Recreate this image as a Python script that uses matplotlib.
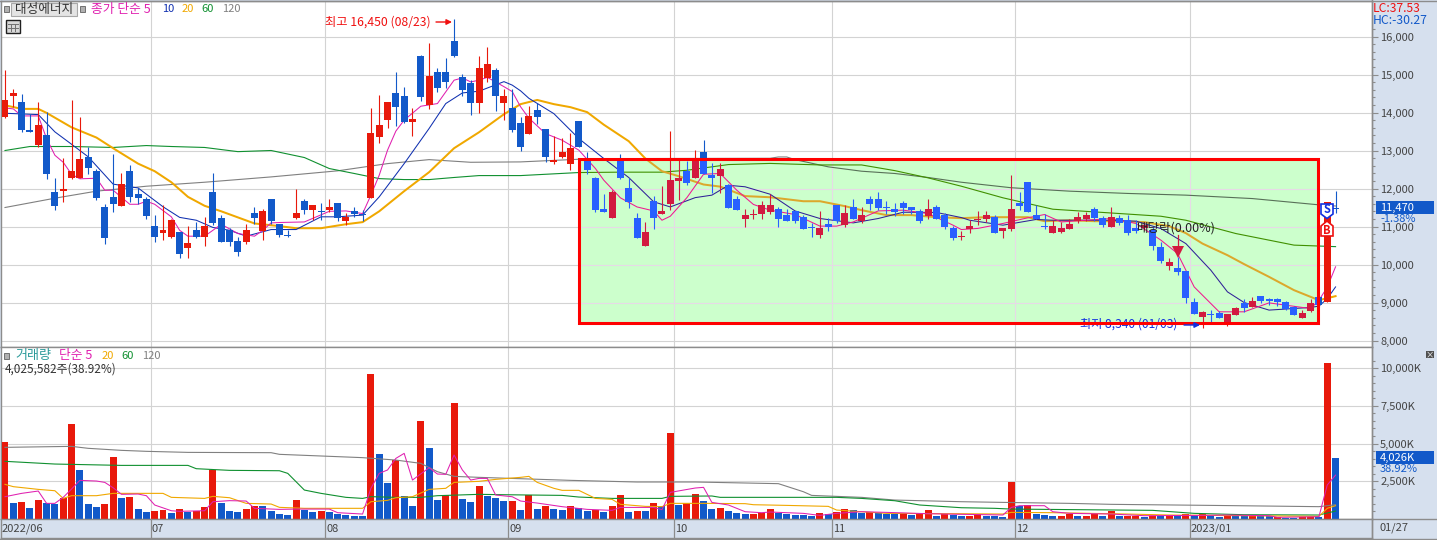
import matplotlib
matplotlib.use("Agg")
import matplotlib.pyplot as plt
from matplotlib.patches import Rectangle, Polygon
from matplotlib.ticker import FixedLocator, FuncFormatter, NullFormatter

plt.rcParams['font.family'] = ['Noto Sans CJK KR', 'DejaVu Sans']

# ---------------- data ----------------
candle_colors = list("RRBBRBBRRRBBBBRBBBBR"
                     "RBRBRBBBBRBRBBBRBRBR"
                     "BRBBRRRBBRBRBBBBBRRB"
                     "RBBRBBRRRBBBBRBBBRBR"
                     "RRBRBBRBBRRRRBBBBBRB"
                     "BRBRBBBBBBBRBBBRRRRB"
                     "RRBBBBRRRRRBBRBBBRBB"
                     "RBBBRBBRRBRBBBBBRRBRB")
body_top = [14325,14500,14270,13550,13665,13400,11900,12000,12455,12770,12825,12455,11510,11770,12115,12455,11850,11720,11010,10900,
 11165,10850,10560,10900,11010,11900,11220,10900,10615,10900,11350,11400,11720,11060,10770,11350,11665,11560,11380,11510,
 11615,11245,11400,11300,13455,13665,14270,14510,14430,13825,15480,14955,15060,15060,15875,14930,14770,15171,15276,15119,
 14435,14113,13718,13902,14060,13560,12760,12955,13060,13770,12800,12270,11455,11900,12770,12010,11220,10850,11665,11400,
 12220,12270,12455,12770,12955,12350,12510,12085,11720,11300,11325,11560,11560,11455,11300,11400,11245,10960,10955,11060,
 11560,11350,11510,11300,11720,11720,11505,11455,11615,11510,11400,11455,11510,11300,10955,10740,11008,11190,11300,11245,
 10955,11455,11615,12165,11300,11010,11008,10955,11060,11245,11300,11455,11220,11245,11220,11165,10955,11050,10900,10455,
 10060,9903,9825,9010,8745,8690,8720,8693,8850,8982,9035,9167,9088,9088,9010,8877,8720,8982,9140,11655,11480]
body_bottom = [13886,14440,13545,13490,13140,12385,11545,11940,12270,12270,12535,11745,10690,11585,11545,11770,11745,11270,10720,10830,
 10720,10270,10430,10720,10720,11090,10590,10590,10325,10590,11220,10875,11140,10770,10760,11220,11430,11430,11370,11430,
 11220,11140,11325,11290,11754,13350,13800,14140,13745,13745,14400,14195,14640,14800,15480,14590,14245,14259,14908,14435,
 14250,13534,13087,13430,13876,12824,12690,12825,12640,13085,12480,11430,11375,11220,12270,11640,10690,10480,11220,11325,
 11590,12190,12140,12270,12375,12270,12325,11480,11430,11190,11315,11325,11375,11190,11140,11140,10930,10950,10770,10980,
 11140,11035,11190,11140,11590,11480,11495,11375,11480,11430,11140,11270,11190,10980,10690,10730,10930,11180,11190,10825,
 10875,10930,11535,11375,11190,11000,10825,10850,10930,11140,11190,11220,11035,10980,11085,10825,10875,10950,10495,10085,
 9955,9798,9115,8693,8615,8680,8590,8405,8665,8850,8877,9035,9035,9010,8825,8665,8590,8770,8930,9010,11470]
high = [15114,14610,14500,13970,14270,14015,12270,12815,14325,13875,13095,12525,11600,12900,12400,12615,12010,11780,11300,11560,
 11210,10850,11010,11115,11245,12400,11300,10955,10720,11060,11510,11455,11720,11060,10900,12000,11720,11560,11615,11720,
 11615,11350,11510,11430,14120,14455,14270,15060,14665,14115,15510,15825,15165,15430,16450,15010,14850,15487,15724,15171,
 14619,14619,13876,14165,14245,13560,13375,13325,13455,13770,12955,12300,11850,11955,12900,12270,11350,11115,11800,12060,
 13510,12745,12720,13010,13270,12665,12665,12115,11800,11455,11455,11665,11850,11510,11455,11400,11300,11085,11400,11220,
 11560,11560,11720,11510,11800,11900,11665,11615,11665,11510,11455,11720,11560,11350,11010,10880,11166,11400,11400,11300,
 10955,12350,11900,12165,11560,11325,11166,11115,11190,11375,11375,11510,11270,11510,11300,11300,11165,11115,10980,10590,
 10165,10193,9825,9115,8770,8800,8770,8693,8877,9088,9140,9167,9115,9115,9035,8905,8800,9088,9140,11655,11932]
low = [13860,14150,13490,13490,13095,12255,11430,11650,12245,12270,12385,11690,10545,11375,11545,11640,11585,11190,10590,10640,
 10690,10175,10175,10690,10480,11035,10590,10480,10220,10535,11060,10640,11060,10720,10720,11190,11325,11165,11165,11375,
 11140,11035,11245,11140,11754,13190,13590,13640,13720,13375,14300,14085,14535,14640,15455,14430,13930,13987,14803,14040,
 13797,13480,12980,13430,13690,12690,12640,12800,12480,13085,12375,11375,11375,11220,12245,11480,10690,10480,10930,11325,
 11430,11690,12085,12270,12375,11875,11875,11480,11430,10980,11190,11190,11325,10980,11140,11085,10930,10720,10690,10875,
 11085,10980,11190,11085,11430,11430,11325,11270,11325,11325,11085,11190,11190,10930,10640,10650,10825,11035,11115,10825,
 10690,10875,11430,11375,11190,10930,10825,10825,10930,11085,11140,11140,10980,10980,11035,10770,10825,10900,10375,10035,
 9850,9719,8982,8693,8340,8480,8590,8377,8665,8745,8877,8982,8930,8905,8800,8665,8590,8745,8877,9010,11355]

volume_colors = ["R","B","R","B","R","B","B","R","R","B","B","B","R","R","B","R","B","B","R","R",
 "B","R","B","R","R","R","B","B","B","R","R","B","B","B","B","R","B","B","R","B",
 "B","B","B","B","R","B","B","R","B","B","R","B","B","R","R","B","B","R","B","B",
 "B","R","B","R","B","R","B","B","R","B","B","R","B","R","R","B","R","B","R","B",
 "R","B","R","R","B","B","R","B","B","B","R","R","R","B","B","B","B","B","R","B",
 "R","R","B","B","R","B","B","B","R","B","R","R","B","R","B","B","R","R","B","B",
 "B","R","B","R","B","B","B","R","R","B","R","R","B","R","B","R","R","B","R","B",
 "R","B","R","B","R","B","B","R","B","B","R","B","B","R","B","B","R","R","B","R","B"]
volume = [5100,1040,1110,710,1240,1040,975,1375,6295,3235,975,775,975,4100,1375,1440,645,445,510,575,
 375,645,445,510,775,3235,1040,510,445,645,840,840,510,310,245,1240,575,445,510,445,
 310,245,175,175,9620,4300,2370,3900,1505,840,6495,4700,1240,1575,7695,1310,1110,2170,1505,1375,
 1175,1175,575,1575,645,840,645,575,840,710,510,575,445,840,1575,445,510,510,1040,840,
 5700,910,1040,1640,1175,645,710,510,375,310,310,375,645,375,310,245,245,175,375,310,
 445,645,575,375,445,375,310,310,375,245,310,575,175,310,245,175,175,310,175,175,
 110,2440,840,910,310,245,175,175,310,175,175,310,175,510,175,175,175,110,175,175,
 175,175,310,175,310,175,110,175,175,175,175,175,175,110,65,65,110,110,130,10355,4026]

ma5_x = [0,1,2,4,5,6,7,8,9,11,12,13,15,16,17,18,20,21,22,24,25,26,28,30,31,32,33,36,39,41,43,44,45,46,47,48,50,52,54,55,56,57,58,60,61,62,63,65,67,69,71,72,74,76,78,79,80,82,84,86,88,90,92,95,98,100,102,105,108,111,114,115,117,120,123,125,127,130,133,136,139,141,143,146,149,152,155,157,158,159,160]
ma5_y = [14120,14095,13910,13910,13315,12875,12690,12375,12255,12270,11955,11955,11585,11585,11665,11585,11255,10900,10745,10745,10900,11060,10815,10745,10900,11095,11105,11120,11400,11410,11340,11825,12350,13010,13510,13800,14165,14235,14850,14910,14805,14850,14925,14680,14550,14150,13850,13445,13270,13010,12525,12220,11755,11515,11410,11165,11270,11760,12375,12395,11955,11580,11430,11315,11010,11010,11120,11410,11430,11340,11035,10920,10950,11080,11230,11315,11120,11165,11210,11080,10640,10290,9410,8755,8755,8990,8900,8840,9060,9400,9940]
ma10_x = [0,4,6,8,10,13,16,19,21,23,25,27,29,32,35,38,40,43,45,48,51,53,55,57,60,61,62,63,66,69,72,75,78,80,83,85,87,89,92,95,98,102,105,108,112,115,116,120,124,126,133,136,139,142,145,147,149,152,157,158,159,160]
ma10_y = [13980,13945,13490,13165,12835,12115,12015,11520,11240,11165,10975,10900,10745,10920,10920,11255,11255,11300,11780,12655,13580,14235,14515,14560,14812,14720,14570,14373,13970,13315,12790,12290,11650,11515,11760,11825,12085,12045,11850,11410,11210,11095,11210,11375,11370,11235,11165,11035,11185,11165,11165,11140,10945,10550,9850,9280,9000,8800,8870,8905,9100,9410]
ma20_x = [0,2,4,5,8,11,13,16,18,20,22,24,26,30,33,35,38,41,43,45,48,51,54,57,60,62,64,66,68,70,72,75,77,79,81,84,86,89,92,96,98,101,103,106,109,112,115,118,123,125,128,131,134,137,140,142,144,147,149,152,155,158,160]
ma20_y = [14190,14095,14095,13990,13610,13340,13060,12655,12455,12165,11780,11545,11400,11080,11010,10955,10955,11060,11115,11400,11930,12430,13060,13480,13955,14220,14330,14220,14140,14010,13680,13245,12790,12455,12325,12105,12050,11800,11770,11665,11665,11535,11430,11300,11300,11245,11220,11245,11245,11140,11165,11140,11140,11115,11008,10825,10550,10245,10010,9675,9325,9060,9167]
ma60_x = [0,3,8,13,17,20,24,28,32,36,39,42,45,48,51,54,57,62,69,74,79,82,87,92,98,103,107,111,115,120,126,132,139,142,148,155,160]
ma60_y = [13000,13105,13105,13080,13130,13105,13080,12970,13000,12815,12525,12395,12260,12235,12235,12290,12340,12340,12420,12430,12430,12480,12630,12660,12620,12620,12470,12280,12060,11755,11455,11370,11270,11165,10815,10510,10470]
ma120_x = [0,6,11,17,24,32,40,46,51,56,62,69,71,80,92,93,94,95,99,103,107,111,115,121,128,135,142,150,158,160]
ma120_y = [11500,11745,11930,12060,12165,12305,12465,12655,12760,12690,12700,12770,12785,12790,12795,12830,12830,12760,12570,12455,12395,12290,12165,12020,11930,11870,11825,11735,11570,11540]

vma5_x = [0,2,4,5,6,7,8,9,11,12,13,14,16,17,18,20,21,24,25,27,29,30,33,35,39,40,43,44,45,46,47,48,49,51,52,53,54,55,56,57,58,59,61,62,64,67,70,73,74,78,79,80,83,84,85,87,89,91,92,96,98,100,103,106,111,120,121,122,125,126,128,133,137,144,147,152,153,158,159,160]
vma5_y = [1463,1685,1840,1020,1020,1420,1970,2550,2505,2415,2060,1620,1640,1530,910,530,490,530,1130,1200,1175,690,620,640,640,400,310,2020,3015,3240,4010,4345,2570,3390,2970,2950,4235,3240,2570,2680,2680,1575,1460,1175,1040,800,620,555,750,750,600,1750,2040,2085,1085,910,465,400,445,355,220,355,465,420,330,245,750,865,865,465,355,310,200,220,245,200,90,130,2240,2900]
vma20_x = [0,1,4,6,7,8,11,13,19,20,24,25,27,29,32,33,36,43,44,46,47,49,51,53,54,57,59,62,63,64,66,67,69,71,73,74,77,79,80,84,89,90,94,99,100,103,106,115,120,121,126,135,140,149,158,159,160]
vma20_y = [2285,2130,1950,1860,1350,1530,1530,1685,1685,1420,1350,1485,1395,1020,975,755,690,690,1130,1220,1395,1465,1950,2020,2415,2485,2615,2750,2815,2415,2020,1885,1885,1350,1285,955,820,800,1020,1020,1000,930,885,820,575,465,355,330,310,420,400,310,245,200,155,690,865]
vma60_x = [0,6,14,22,23,27,33,34,36,38,41,43,44,47,50,52,57,60,67,69,73,79,80,85,86,100,103,107,110,115,119,121,129,138,143,149,158,160]
vma60_y = [3815,3635,3545,3545,3325,3215,3190,3015,1905,1685,1420,1350,1465,1420,1420,1530,1620,1595,1550,1440,1350,1350,1485,1510,1420,1420,1350,1195,910,730,690,640,600,555,355,265,245,510]
vma120_x = [0,8,10,14,17,22,32,33,38,43,47,50,52,54,57,68,76,83,93,96,97,103,107,115,120,128,133,145,155,158,160]
vma120_y = [4745,4810,4680,4545,4480,4410,4390,4280,4170,4060,3900,3680,3125,2815,2750,2550,2440,2440,2330,1795,1550,1420,1240,1130,1085,1020,955,885,820,800,930]

price_ticks = [8000,9000,10000,11000,12000,13000,14000,15000,16000]
price_minor = list(range(8200, 16400, 200))
volume_ticks = [2500,5000,7500,10000]
volume_minor = list(range(500, 11000, 500))
month_edges = [17.5,38.5,60.5,80.5,99.5,121.5,142.5]
month_labels = ["2022/06","07","08","09","10","11","12","2023/01"]
box_x = (69.08, 157.9)
box_y = (8461, 12784)

# ---------------- layout ----------------
W, H = 1437, 540
X0, DX = 5.0, 8.316
BAND = "#D6E0EE"
AX_C = "#8C8C8C"
fig = plt.figure(figsize=(W/100, H/100), dpi=100, facecolor=BAND)

def panel(top, bottom):
    return fig.add_axes([1/W, 1-bottom/H, 1371/W, (bottom-top)/H])

ax = panel(1, 347)
vx = panel(347, 519)
bx = panel(519, 538)
xlim = ((1-X0)/DX, (1372-X0)/DX)
for a in (ax, vx, bx):
    a.set_xlim(*xlim)
    a.set_facecolor("white")
    for s in a.spines.values():
        s.set_color(AX_C); s.set_linewidth(1.0)
ax.set_ylim(16000-(347-36.5)/0.038, 16000-(1-36.5)/0.038)
vx.set_ylim(-20, (518.7-347)*66.5)
bx.set_ylim(0, 1)
bx.set_facecolor(BAND)
bx.set_xticks([]); bx.set_yticks([])
ax.set_xticks([]); vx.set_xticks([])

for a, maj, mnr, fmt in ((ax, price_ticks, price_minor, lambda v, p: f"{int(v):,}"),
                         (vx, volume_ticks, volume_minor, lambda v, p: f"{int(v):,}K")):
    a.yaxis.tick_right()
    a.yaxis.set_major_locator(FixedLocator(maj))
    a.yaxis.set_minor_locator(FixedLocator(mnr))
    a.yaxis.set_major_formatter(FuncFormatter(fmt))
    a.yaxis.set_minor_formatter(NullFormatter())
    a.tick_params(axis='y', which='major', length=4.4, width=0.8, color=AX_C, labelsize=8,
                  labelcolor="#444444", pad=1.5)
    a.tick_params(axis='y', which='minor', length=2.4, width=0.8, color=AX_C)

def draw_grid(a, ticks, color, z, clip=None):
    items = [a.axhline(t, color=color, lw=0.8, zorder=z) for t in ticks]
    items += [a.axvline(m, color=color, lw=0.8, zorder=z) for m in month_edges]
    if clip is not None:
        for it in items:
            it.set_clip_path(clip)

def draw_price(pal, z, clip=None):
    draw_grid(ax, price_ticks, pal['grid'], z, clip)
    lines = [
        ax.plot(ma120_x, ma120_y, color=pal['ma120'], lw=0.8, zorder=z+1)[0],
        ax.plot(ma60_x, ma60_y, color=pal['ma60'], lw=0.8, zorder=z+1)[0],
        ax.plot(ma20_x, ma20_y, color=pal['ma20'], lw=1.45, zorder=z+1)[0],
        ax.plot(ma10_x, ma10_y, color=pal['ma10'], lw=0.75, zorder=z+1)[0],
        ax.plot(ma5_x, ma5_y, color=pal['ma5'], lw=0.75, zorder=z+1)[0],
    ]
    xs = list(range(len(body_top)))
    cols = [pal['up'] if c == "R" else pal['down'] for c in candle_colors]
    wicks = ax.vlines(xs, low, high, colors=cols, lw=0.8, zorder=z+2)
    heights = [max(t-b, 26) for t, b in zip(body_top, body_bottom)]
    bars = ax.bar(xs, heights, bottom=body_bottom, width=0.84, color=cols, linewidth=0, zorder=z+3)
    if clip is not None:
        for it in lines + [wicks] + list(bars):
            it.set_clip_path(clip)

outside = dict(grid="#D3D3D3", ma5="#E020B0", ma10="#1030B0", ma20="#F0A800", ma60="#109030",
               ma120="#808080", up="#E8190B", down="#1259C9")
inside = dict(grid="#E6DAE6", ma5="#F01890", ma10="#302098", ma20="#DCA82C", ma60="#409000",
              ma120="#587058", up="#D21A3F", down="#2860FF")

draw_price(outside, 1)
fill = Rectangle((box_x[0], box_y[0]), box_x[1]-box_x[0], box_y[1]-box_y[0],
                 facecolor="#CCFFCC", edgecolor="none", zorder=6)
ax.add_patch(fill)
draw_price(inside, 7, clip=fill)

# dividend marker
ax.plot([141, 141], [10776, 10400], color=inside['up'], lw=0.9, zorder=11)
ax.plot([141], [10340], marker='v', ms=8.5, color=inside['up'], mew=0, zorder=11)

ax.add_patch(Rectangle((box_x[0], box_y[0]), box_x[1]-box_x[0], box_y[1]-box_y[0],
                       facecolor="none", edgecolor="#FF0000", lw=2.2, zorder=13))

def note(a, x, y, s, color, size=8, z=12, ha='left'):
    a.annotate(s, xy=(x, H-y), xycoords='figure pixels', color=color, fontsize=size, ha=ha,
               va='center', zorder=z, annotation_clip=False)

def arrow(a, x0, x1, y, color, z=14):
    a.annotate('', xy=(x1, H-y), xytext=(x0, H-y), xycoords='figure pixels', textcoords='figure pixels',
               arrowprops=dict(arrowstyle='-|>', color=color, lw=1, mutation_scale=8, shrinkA=0, shrinkB=0),
               zorder=z, annotation_clip=False)

note(ax, 325, 22, "최고 16,450 (08/23)", "#F01010", size=8.8)
arrow(ax, 436, 452, 22, "#F01010")
note(ax, 1080, 324, "최저 8,340 (01/03)", "#1030E0", size=8.7)
arrow(ax, 1184, 1200, 325, "#1030E0")
note(ax, 1137, 228, "배당락(0.00%)", "#222222", size=9)

# volume panel
draw_grid(vx, volume_ticks, "#D3D3D3", 1)
vx.bar(range(len(volume)), volume, width=0.84, linewidth=0, zorder=3,
       color=[outside['up'] if c == "R" else outside['down'] for c in volume_colors])
vx.plot(vma120_x, vma120_y, color="#808080", lw=0.8, zorder=4)
vx.plot(vma60_x, vma60_y, color="#109030", lw=0.8, zorder=4)
vx.plot(vma20_x, vma20_y, color="#F0A800", lw=0.8, zorder=4)
vx.plot(vma5_x, vma5_y, color="#E020B0", lw=0.75, zorder=5)

# bottom date band
bx.vlines(month_edges, 0, 1, color=AX_C, lw=0.9)
bx.text(-0.42, 0.47, month_labels[0], fontsize=8, color="#444444", va='center')
for m, lab in zip(month_edges, month_labels[1:]):
    bx.text(m+0.12, 0.47, lab, fontsize=8, color="#444444", va='center')

# figure level furniture
def ftext(x, y, s, color, size=8, **kw):
    fig.text(x/W, 1-y/H, s, color=color, fontsize=size, va='center', **kw)

def frect(x0, y0, x1, y1, **kw):
    fig.add_artist(Rectangle((x0/W, 1-y1/H), (x1-x0)/W, (y1-y0)/H, transform=fig.transFigure, **kw))

fig.add_artist(plt.Line2D([1372/W, 1372/W], [2/H, 1], color=AX_C, lw=1.0, transform=fig.transFigure))
fig.add_artist(plt.Line2D([1372/W, 1437/W], [1-519/H, 1-519/H], color=AX_C, lw=1.0, transform=fig.transFigure))
fig.add_artist(plt.Line2D([0, 1], [1-0.8/H, 1-0.8/H], color=AX_C, lw=1.0, transform=fig.transFigure))
fig.add_artist(plt.Line2D([0, 1], [1-538.5/H, 1-538.5/H], color=AX_C, lw=1.0, transform=fig.transFigure))

frect(4, 6, 9, 12, facecolor="#B0B0B0", edgecolor="#707070", lw=0.7)
frect(11, 3, 77, 16, facecolor="#E4E4E4", edgecolor="#A8A8A8", lw=0.8)
ftext(15, 9.5, "대성에너지", "#333333", size=9.1)
frect(80, 6, 85, 12, facecolor="#B0B0B0", edgecolor="#707070", lw=0.7)
ftext(91, 9.5, "종가 단순 5", "#E020B0", size=9.2)
ftext(162, 9.5, "10", "#1030B0")
ftext(182, 9.5, "20", "#F0A800")
ftext(201, 9.5, "60", "#109030")
ftext(222, 9.5, "120", "#808080")
frect(6, 20, 20, 33, facecolor="#D8D8D8", edgecolor="#202020", lw=1.0)
for gx in (10.5, 15.5):
    fig.add_artist(plt.Line2D([gx/W, gx/W], [1-31/H, 1-24/H], color="#707070", lw=0.7, transform=fig.transFigure))
for gy in (24, 27.5):
    fig.add_artist(plt.Line2D([8/W, 18/W], [1-gy/H, 1-gy/H], color="#707070", lw=0.7, transform=fig.transFigure))

frect(4, 353, 9, 359, facecolor="#B0B0B0", edgecolor="#707070", lw=0.7)
ftext(15, 356, "거래량", "#2A9A9A", size=9.4)
ftext(59, 356, "단순 5", "#E020B0", size=9.2)
ftext(102, 356, "20", "#F0A800")
ftext(121, 356, "60", "#109030")
ftext(142, 356, "120", "#808080")
ftext(5, 369, "4,025,582주(38.92%)", "#333333", size=8.5)

ftext(1373, 8, "LC:37.53", "#EE1111", size=8.7)
ftext(1373, 20, "HC:-30.27", "#1259C9", size=8.8)
frect(1376, 201, 1434, 214, facecolor="#1259C9", edgecolor="none")
ftext(1380, 207.5, "11,470", "white")
ftext(1380, 219, "-1.38%", "#1259C9")
frect(1376, 451, 1434, 464, facecolor="#1259C9", edgecolor="none")
ftext(1380, 457.5, "4,026K", "white")
ftext(1380, 469.5, "38.92%", "#1259C9")
frect(1426, 351, 1434, 358, facecolor="#505050", edgecolor="none")
ftext(1430, 354.5, "×", "white", size=6, ha='center')
ftext(1380, 528, "01/27", "#444444")

def shield(points, letter, color, ty):
    fig.add_artist(Polygon([(x/W, 1-y/H) for x, y in points], closed=True, transform=fig.transFigure,
                           facecolor="white", edgecolor=color, lw=1.2))
    ftext(1327, ty, letter, color, size=8, ha='center', fontweight='bold')

shield([(1321,204),(1333,204),(1333,214),(1327,218.5),(1321,214)], "S", "#1030E0", 209.5)
shield([(1327,221),(1333,226),(1333,236),(1321,236),(1321,226)], "B", "#EE1111", 230)

fig.savefig("out.png", dpi=100, facecolor=fig.get_facecolor())
